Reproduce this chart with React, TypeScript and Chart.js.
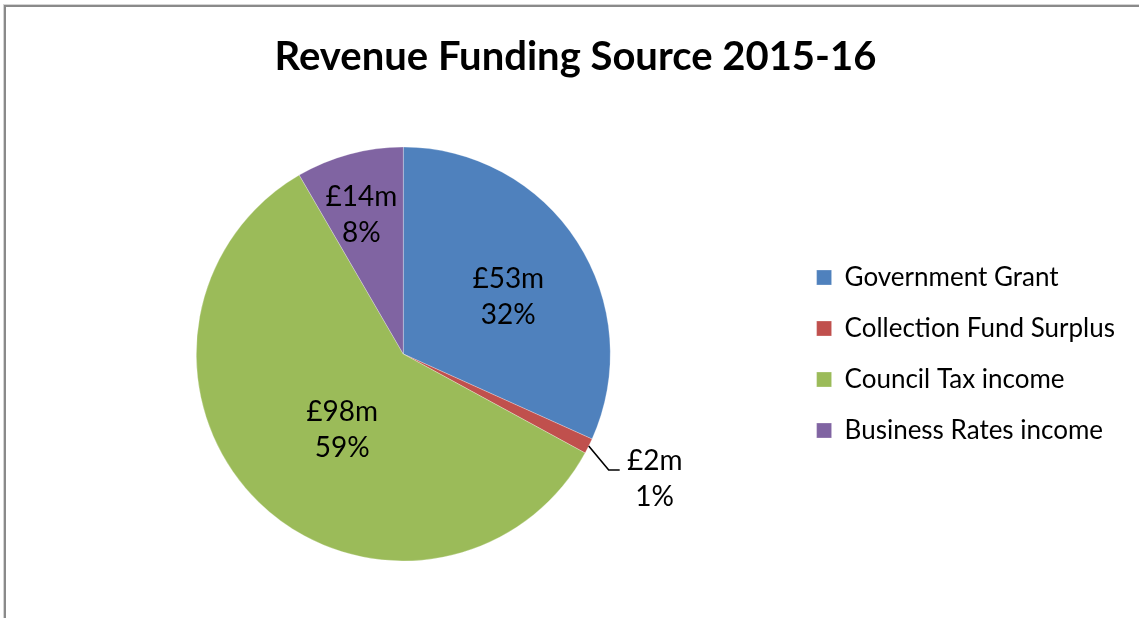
import React, { useEffect, useRef } from "react";
import { Chart, registerables } from "chart.js";

Chart.register(...registerables);

// ---- data ----
const chartTitle = "Revenue Funding Source 2015-16";
const categories = [
  "Government Grant",
  "Collection Fund Surplus",
  "Council Tax income",
  "Business Rates income",
];
const valuesMillions = [53, 2, 98, 14];
const sliceColors = ["#4F81BD", "#C0504D", "#9BBB59", "#8064A2"];

// ---- styling / placement (not data) ----
const FONT = "Lato, 'Open Sans', sans-serif";
const LABEL_SIZE = 28;
const LABEL_GAP = 36;
const labelPlacement: any[] = [
  { kind: "inside", rf: 0.578, da: 4.2 },
  { kind: "leader" },
  { kind: "inside", rf: 0.47, da: -5.3 },
  { kind: "inside", rf: 0.7, da: -1.7 },
];

const total = valuesMillions.reduce((a, b) => a + b, 0);
const valueText = (i: number) => `£${valuesMillions[i]}m`;
const pctText = (i: number) => `${Math.round((valuesMillions[i] / total) * 100)}%`;

const chromePlugin = {
  id: "chrome",
  beforeDraw(chart: any) {
    const ctx = chart.ctx;
    ctx.save();
    ctx.fillStyle = "#ffffff";
    ctx.fillRect(0, 0, chart.width, chart.height);
    ctx.fillStyle = "#d4d4d4";
    ctx.fillRect(3, 4, 1, chart.height);
    ctx.fillRect(3, 4, chart.width, 1);
    ctx.fillStyle = "#8a8a8a";
    ctx.fillRect(4, 5, 2, chart.height);
    ctx.fillRect(4, 5, chart.width, 2);
    ctx.restore();
  },
  afterDraw(chart: any) {
    const ctx = chart.ctx;
    ctx.save();
    ctx.fillStyle = "#000000";
    ctx.font = `bold 40px ${FONT}`;
    ctx.textAlign = "center";
    ctx.textBaseline = "middle";
    ctx.fillText(chartTitle, 575.5, 57);
    ctx.restore();
  },
};

const labelPlugin = {
  id: "sliceLabels",
  afterDatasetsDraw(chart: any) {
    const ctx = chart.ctx;
    const meta = chart.getDatasetMeta(0);
    ctx.save();
    ctx.font = `${LABEL_SIZE}px ${FONT}`;
    ctx.fillStyle = "#000000";
    ctx.textAlign = "center";
    ctx.textBaseline = "middle";
    meta.data.forEach((arc: any, i: number) => {
      const { x, y, startAngle, endAngle, outerRadius } = arc.getProps(
        ["x", "y", "startAngle", "endAngle", "outerRadius"],
        true
      );
      const mid = (startAngle + endAngle) / 2;
      const p = labelPlacement[i];
      if (p.kind === "inside") {
        const a = mid + (p.da * Math.PI) / 180;
        const cx = x + Math.cos(a) * outerRadius * p.rf;
        const cy = y + Math.sin(a) * outerRadius * p.rf;
        ctx.fillText(valueText(i), cx, cy - LABEL_GAP / 2);
        ctx.fillText(pctText(i), cx, cy + LABEL_GAP / 2);
      } else {
        const ex = x + Math.cos(mid) * outerRadius;
        const ey = y + Math.sin(mid) * outerRadius;
        const bx = ex + 20;
        const by = ey + 24;
        const tx = bx + 11;
        ctx.strokeStyle = "#000000";
        ctx.lineWidth = 1.6;
        ctx.beginPath();
        ctx.moveTo(ex, ey);
        ctx.lineTo(bx, by);
        ctx.lineTo(tx, by);
        ctx.stroke();
        ctx.fillText(valueText(i), tx + 35, by - 9);
        ctx.fillText(pctText(i), tx + 35, by + 27);
      }
    });
    ctx.restore();
  },
};

export default function App() {
  const canvasRef = useRef<HTMLCanvasElement | null>(null);

  useEffect(() => {
    if (!canvasRef.current) return;
    const chart = new Chart(canvasRef.current, {
      type: "pie",
      data: {
        labels: categories,
        datasets: [
          {
            data: valuesMillions,
            backgroundColor: sliceColors,
            borderColor: "rgba(255,255,255,0.45)",
            borderWidth: 0.6,
            radius: 207,
          } as any,
        ],
      },
      options: {
        responsive: false,
        animation: false,
        events: [],
        layout: { padding: { left: 15, right: 14, top: 147, bottom: 57 } },
        plugins: {
          title: { display: false },
          tooltip: { enabled: false },
          legend: {
            display: true,
            position: "right",
            align: "center",
            labels: {
              boxWidth: 15,
              boxHeight: 15,
              padding: 25,
              color: "#000000",
              font: { family: FONT, size: 26 },
            },
          },
        },
      },
      plugins: [chromePlugin, labelPlugin],
    });
    return () => chart.destroy();
  }, []);

  return (
    <div style={{ position: "absolute", left: 0, top: 0, width: 1139, height: 618, overflow: "hidden", background: "#fff" }}>
      <canvas ref={canvasRef} width={1139} height={618} style={{ width: 1139, height: 618, display: "block" }} />
    </div>
  );
}
